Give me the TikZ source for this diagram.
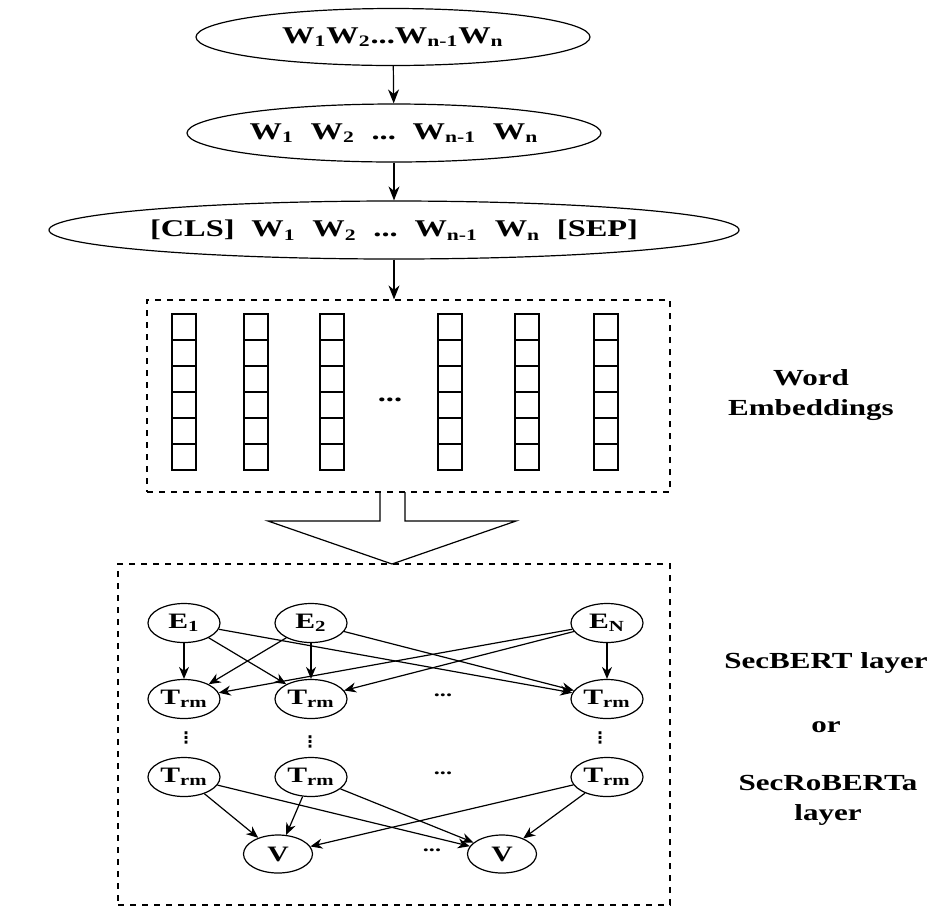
\documentclass[tikz,border=0pt]{standalone}
\usepackage{fontspec}
\setmainfont{Liberation Serif}[FakeStretch=1.35]
\newfontfamily\symfont{DejaVu Sans}
\usetikzlibrary{arrows.meta,shapes.geometric}

\begin{document}
\begin{tikzpicture}[
  x=0.5pt,y=-0.5pt,
  >=Stealth,
  line width=0.6pt,
  seqtxt/.style={font=\bfseries\fontsize{12}{14}\selectfont},
  lbltxt/.style={font=\bfseries\fontsize{11.5}{15}\selectfont,align=center},
  oval/.style={draw,ellipse,inner sep=0pt,seqtxt},
  unit/.style={draw,ellipse,inner sep=0pt,minimum width=36pt,minimum height=19.5pt,font=\bfseries\fontsize{11}{12}\selectfont},
  dashbox/.style={draw,dashed,inner sep=0pt},
  arrow/.style={-{Stealth[length=7pt,width=5.5pt]}},
  link/.style={-{Stealth[length=6pt,width=5pt]}},
  dotsv/.style={inner sep=0pt,font=\symfont\bfseries\fontsize{8}{8}\selectfont}
]
  \useasboundingbox (0,0) rectangle (927,912);

  % input sequence
  \node[oval,minimum width=197pt,minimum height=28.5pt] (seq) at (393,37)
    {W\textsubscript{1}W\textsubscript{2}...W\textsubscript{n-1}W\textsubscript{n}};
  \node[oval,minimum width=207pt,minimum height=29pt] (tok) at (394,133)
    {W\textsubscript{1}\hspace{0.7em}W\textsubscript{2}\hspace{0.7em}...\hspace{0.7em}W\textsubscript{n-1}\hspace{0.7em}W\textsubscript{n}};
  \node[oval,minimum width=286pt,minimum height=29pt] (inp) at (394,230)
    {[CLS]\hspace{0.7em}W\textsubscript{1}\hspace{0.7em}W\textsubscript{2}\hspace{0.7em}...\hspace{0.7em}W\textsubscript{n-1}\hspace{0.7em}W\textsubscript{n}\hspace{0.7em}[SEP]};
  \draw[arrow] (seq) -- (tok);
  \draw[arrow] (tok) -- (inp);

  % word embeddings
  \node[dashbox,minimum width=261.5pt,minimum height=96pt] (emb) at (408.5,396) {};
  \draw[arrow] (inp.south) -- (inp.south |- emb.north);
  \foreach \bx in {184,256,332,450,527,606}
    \foreach \cy in {0,...,5}
      \draw ({\bx-12},{314+26*\cy}) rectangle ++(24,26);
  \node[seqtxt] (edots) at (390,400) {...};
  \node[lbltxt] (emblbl) at (811,395) {Word\\Embeddings};

  % hollow arrow
  \draw (380,492) -- (380,521) -- (268,521) -- (392,564) -- (516,521) -- (405,521) -- (405,492);

  % encoder layers
  \node[dashbox,minimum width=276pt,minimum height=170.5pt] (enc) at (394,734.5) {};
  \node[unit] (e1) at (184,623) {E\textsubscript{1}};
  \node[unit] (e2) at (311,623) {E\textsubscript{2}};
  \node[unit] (en) at (607,623) {E\textsubscript{N}};
  \node[unit] (t1) at (184,699) {T\textsubscript{rm}};
  \node[unit] (t2) at (311,699) {T\textsubscript{rm}};
  \node[unit] (tn) at (607,699) {T\textsubscript{rm}};
  \node[unit] (b1) at (184,777) {T\textsubscript{rm}};
  \node[unit] (b2) at (311,777) {T\textsubscript{rm}};
  \node[unit] (bn) at (607,777) {T\textsubscript{rm}};
  \node[unit,minimum width=34.5pt,minimum height=19pt] (v1) at (278,854) {V};
  \node[unit,minimum width=34.5pt,minimum height=19pt] (v2) at (502,854) {V};
  \node[font=\bfseries\small] (tdots) at (443,695) {...};
  \node[font=\bfseries\small] (bdots) at (443,773) {...};
  \node[font=\bfseries\small] (vdots) at (432,850) {...};
  \node[dotsv] (c1) at (186,738) {⋮};
  \node[dotsv] (c2) at (310,742) {⋮};
  \node[dotsv] (cn) at (600,738) {⋮};
  \foreach \s in {e1,e2,en}
    \foreach \t in {t1,t2,tn}
      \draw[link] (\s) -- (\t);
  \foreach \s in {b1,b2,bn}
    \foreach \t in {v1,v2}
      \draw[link] (\s) -- (\t);

  \node[lbltxt] (bert) at (826,663) {SecBERT layer};
  \node[lbltxt] (orlbl) at (826,727) {or};
  \node[lbltxt] (roberta) at (828,800) {SecRoBERTa\\layer};
\end{tikzpicture}
\end{document}
